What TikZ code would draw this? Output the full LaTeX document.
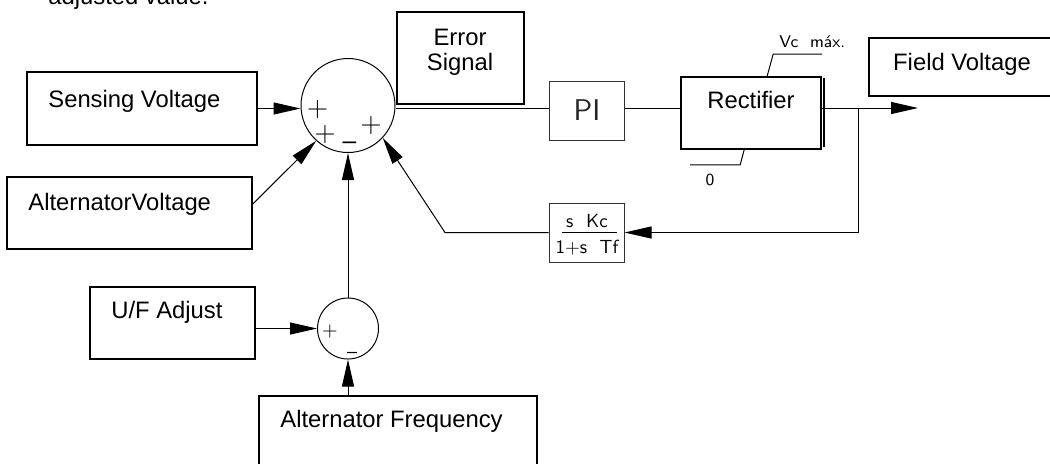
\documentclass[tikz,border=0pt]{standalone}
\usepackage{fontspec}
\setmainfont{Liberation Sans}
\usetikzlibrary{arrows.meta}
\tikzset{
  bx/.style n args={2}{draw,line width=0.85pt,inner sep=0pt,rectangle,minimum width=#1*0.5pt,minimum height=#2*0.5pt},
  thinbx/.style n args={2}{draw=black!80,line width=0.5pt,inner sep=0pt,rectangle,minimum width=#1*0.5pt,minimum height=#2*0.5pt},
  sumc/.style={draw,circle,line width=0.5pt,inner sep=0pt},
  lbl/.style={font=\fontsize{11.9}{12.5}\selectfont,inner sep=0pt},
  cad/.style={font=\sffamily\fontsize{8.5}{9}\selectfont,inner sep=0pt},
  cadm/.style={font=\sffamily\fontsize{9.5}{10}\selectfont,inner sep=0pt},
  sgn/.style={font=\sffamily\fontsize{14}{14}\selectfont,inner sep=0pt},
  sgns/.style={font=\sffamily\fontsize{10}{10}\selectfont,inner sep=0pt},
  conn/.style={line width=0.5pt},
  arr/.style={conn,-{Triangle[length=13.5pt,width=6pt]}}
}
\begin{document}
\begin{tikzpicture}[x=0.5pt,y=-0.5pt]
\useasboundingbox (0,0) rectangle (1050,463);
\clip (0,0) rectangle (1050,463);

\node[lbl,anchor=base west] (adj) at (48,4) {adjusted value.};

% boxes
\node[bx={230}{73}] (sens) at (142,108.5) {};
\node[lbl,anchor=base west] (senst) at (48,107) {Sensing Voltage};
\node[bx={245}{72}] (altv) at (129.5,213) {};
\node[lbl,anchor=base west] (altvt) at (28,210) {AlternatorVoltage};
\node[bx={165}{72}] (uf) at (172.5,323) {};
\node[lbl,anchor=base west] (uft) at (111,318) {U/F Adjust};
\node[bx={278}{80}] (altf) at (398,436) {};
\node[lbl,anchor=base west] (altft) at (280,427) {Alternator Frequency};
\node[bx={127}{92}] (err) at (460.5,58) {};
\node[lbl,anchor=base,align=center] (errt) at (460,70) {Error\\Signal};
\node[thinbx={75}{59}] (pi) at (586.5,110.5) {};
\node[inner sep=0pt,text=black!85,font=\sffamily\fontsize{15}{15}\selectfont] (pit) at (587,110) {PI};
\node[bx={140}{72}] (rect) at (751,113) {};
\node[lbl,anchor=base] (rectt) at (751,108) {Rectifier};
\node[bx={191}{58}] (field) at (964.5,67) {};
\node[lbl,anchor=base] (fieldt) at (962,70) {Field Voltage};
\node[thinbx={75}{59}] (fb) at (586.5,232.5) {};
\node[cadm,anchor=base] (fbn) at (587,227) {s~~Kc};
\node[cadm,anchor=base] (fbd) at (587,253) {1+s~~Tf};
\draw[conn] (562,232) -- (617,232);

% summing junctions
\node[sumc,minimum size=47pt] (sum) at (348,105.5) {};
\node[sumc,minimum size=30.5pt] (ufc) at (348,328.5) {};
\node[sgn] (s1) at (317.5,110) {+};
\node[sgn] (s2) at (325,135) {+};
\node[sgn] (s3) at (349.5,146) {–};
\node[sgn] (s4) at (371,126) {+};
\node[sgns] (u1) at (330,331) {+};
\node[sgns] (u2) at (352,355) {–};

% coordinates
\coordinate (r) at (0,108);
\coordinate (br) at (858,108);
\coordinate (out) at (918,108);
\coordinate (fbk) at (445,232.5);

% connectors
\draw[arr] (sens.east) -- (sens.east -| sum.west);
\draw[arr] ([yshift=4.5pt]altv.east) -- (sum.228);
\draw[conn] (sum.east |- r) -- (pi.west |- r);
\draw[conn] (pi.east |- r) -- (rect.west |- r);
\draw[arr] (rect.east |- r) -- (out);
\draw[arr] (br) |- (fb.east);
\draw[arr] (fb.west) -- (fbk) -- (sum.317);
\draw[arr] (ufc.north) -- (sum.south);
\draw[arr] (uf.east |- ufc) -- (ufc.west);
\draw[arr] (ufc.south |- altf.north) -- (ufc.south);

% rectifier extra edge and limits
\draw[line width=0.85pt] ([xshift=1.2pt,yshift=-1pt]rect.north east) -- ([xshift=1.2pt,yshift=1.5pt]rect.south east);
\draw[conn] (rect.north west) ++(87,0) -- ++(6,-22) -- ++(49,0);
\node[cad,anchor=base west] (vc) at (779,47) {Vc~~máx.};
\draw[conn] (rect.south west) ++(64,0) -- ++(-4,15) -- ++(-50,0);
\node[cad,anchor=base] (zero) at (710,185) {0};
\end{tikzpicture}
\end{document}
